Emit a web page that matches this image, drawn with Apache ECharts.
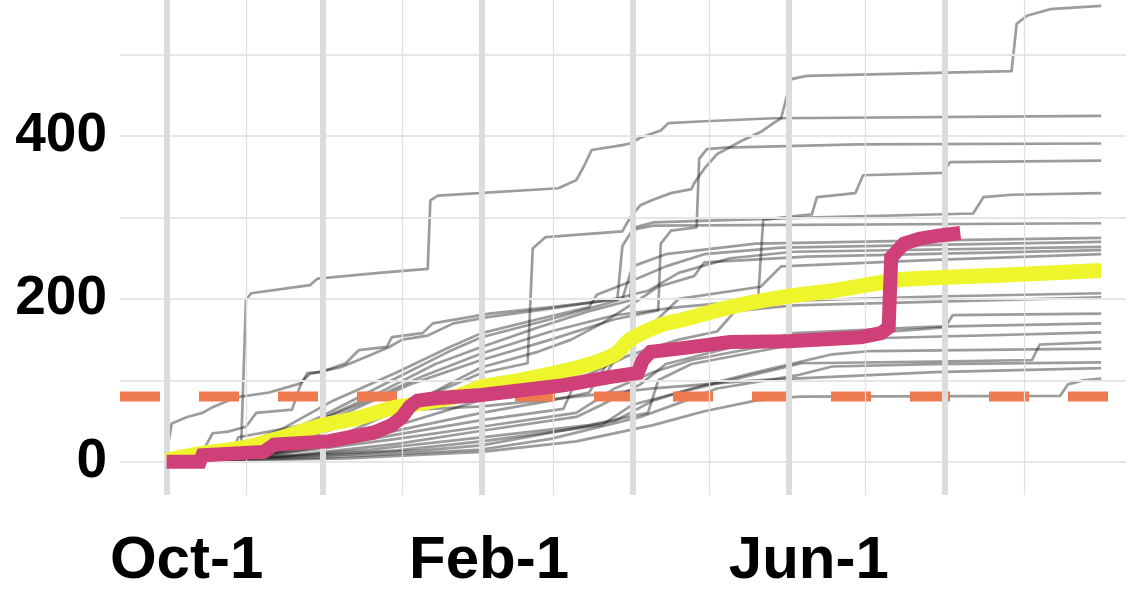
<!DOCTYPE html>
<html>
<head>
<meta charset="utf-8">
<title>Cumulative totals since Oct-1</title>
<script src="https://cdn.jsdelivr.net/npm/echarts@6/dist/echarts.min.js"></script>
<style>
  html, body { margin: 0; padding: 0; background: #ffffff; }
  #chart { width: 1142px; height: 589px; }
</style>
</head>
<body>
<div id="chart"></div>
<script>
// Days counted from Oct-1; values are running totals.
const dayMin = -18.2;
const dayMax = 374.7;
const valueMin = -40.9;
const valueMax = 567.3;

// Month starts (days since Oct-1) used for the vertical grid
const monthStarts = [0, 31, 61, 92, 123, 151, 182, 212, 243, 273, 304, 335];
const gridValues = [0, 100, 200, 300, 400, 500];

// Axis labels
const xTickDays = [0, 123, 243];
const xTickLabels = ['Oct-1', 'Feb-1', 'Jun-1'];
const yTickValues = [0, 200, 400];

// Reference level
const thresholdValue = 80;

// Earlier seasons, [day, running total]
const season01 = [[0,2],[29,8],[31,199],[33,207],[56,217],[59,225],[83,232],[102,237],[103,321],[106,327],[153,336],[160,346],[163,363],[166,383],[178,389],[181,391],[185,398],[193,407],[196,416],[208,418],[237,422],[365,425]];
const season02 = [[0,0],[30,8],[55,30],[80,55],[105,85],[123,109],[141,121],[143,262],[148,276],[178,283],[181,300],[185,315],[190,322],[197,330],[205,335],[206,342],[210,360],[215,378],[225,395],[232,405],[237,416],[240,422],[244,470],[250,474],[330,480],[332,538],[336,548],[345,556],[365,560]];
const season03 = [[0,0],[20,5],[45,30],[70,60],[95,95],[123,125],[150,150],[175,175],[192,186],[193,268],[197,284],[207,288],[208,372],[211,384],[218,386],[270,390],[365,391]];
const season04 = [[0,0],[25,8],[50,40],[75,70],[100,105],[123,133],[150,160],[175,180],[200,190],[231,199],[233,297],[240,300],[252,304],[254,325],[269,330],[272,352],[303,355],[306,368],[365,370]];
const season05 = [[0,0],[30,12],[55,45],[80,80],[105,120],[123,141],[145,165],[165,185],[181,198],[183,288],[190,294],[250,300],[315,305],[319,325],[330,328],[365,330]];
const season06 = [[0,0],[35,20],[60,55],[88,100],[110,135],[123,153],[150,175],[176,198],[178,265],[182,285],[190,290],[365,293]];
const season07 = [[0,10],[2,47],[8,55],[14,60],[18,67],[27,79],[40,85],[52,96],[56,108],[68,116],[75,125],[87,141],[92,150],[102,155],[112,170],[126,178],[150,188],[175,200],[188,210],[200,232],[220,250],[245,258],[365,264]];
const season08 = [[0,0],[14,5],[15,18],[18,35],[24,37],[31,43],[35,60],[49,64],[52,92],[55,109],[60,110],[70,121],[75,137],[86,141],[88,153],[100,158],[104,170],[126,182],[150,190],[178,200],[182,240],[195,255],[230,268],[300,272],[365,275]];
const season09 = [[0,0],[20,10],[45,40],[65,75],[90,110],[110,140],[123,158],[145,175],[165,190],[168,205],[180,220],[195,240],[210,255],[240,263],[365,270]];
const season10 = [[0,0],[40,10],[70,35],[95,70],[110,95],[123,116],[145,135],[158,150],[170,170],[185,200],[192,215],[206,228],[210,245],[250,252],[365,260]];
const season11 = [[0,0],[40,10],[80,35],[123,76],[150,90],[170,100],[178,140],[190,170],[200,200],[232,215],[240,240],[300,248],[365,255]];
const season12 = [[0,0],[30,5],[70,25],[100,45],[123,60],[150,75],[165,85],[172,120],[185,150],[200,170],[220,185],[245,198],[300,203],[365,207]];
const season13 = [[0,0],[40,8],[80,28],[123,51],[155,65],[160,100],[180,130],[200,150],[215,160],[222,185],[245,192],[365,202]];
const season14 = [[0,0],[45,10],[90,28],[123,43],[160,60],[175,90],[190,110],[205,125],[230,140],[250,152],[304,165],[307,180],[365,182]];
const season15 = [[0,0],[50,8],[90,22],[123,38],[160,55],[170,70],[185,95],[195,120],[220,140],[245,158],[300,166],[365,170]];
const season16 = [[0,0],[30,3],[80,15],[123,30],[165,45],[188,60],[192,100],[205,120],[240,141],[280,152],[365,159]];
const season17 = [[0,0],[40,5],[90,14],[123,25],[170,45],[182,70],[200,85],[220,100],[248,121],[300,123],[338,125],[341,144],[365,147]];
const season18 = [[0,0],[50,6],[100,14],[123,20],[175,50],[190,75],[205,90],[230,110],[260,132],[275,136],[365,139]];
const season19 = [[0,0],[60,5],[100,11],[123,15],[150,28],[185,55],[200,72],[215,90],[246,106],[260,117],[300,120],[365,122]];
const season20 = [[0,0],[70,4],[123,12],[160,25],[190,45],[210,62],[230,75],[247,80],[349,81],[352,95],[358,100],[365,102]];
const season21 = [[0,0],[25,6],[28,30],[45,40],[65,52],[85,62],[123,68],[160,80],[190,90],[230,100],[300,110],[365,115]];

// Average season (yellow) and current season (magenta)
const averageSeason = [[0,2],[13,10],[31,18],[44,29],[61,45],[75,54],[88,66],[100,72],[113,80],[123,92],[138,100],[161,116],[175,132],[181,150],[193,168],[201,174],[220,190],[240,202],[262,211],[285,223],[300,226],[325,229],[365,235]];
const currentSeason = [[0,0],[13,0],[14,8],[38,12],[42,21],[63,25],[81,36],[88,45],[92,55],[95,68],[98,75],[105,78],[123,82],[155,94],[173,104],[184,109],[186,125],[189,135],[200,139],[220,147],[243,148],[271,153],[279,158],[282,165],[283,251],[288,268],[294,274],[302,278],[310,281]];

const pastSeasons = [season01, season02, season03, season04, season05, season06, season07,
  season08, season09, season10, season11, season12, season13, season14, season15,
  season16, season17, season18, season19, season20, season21];

const chart = echarts.init(document.getElementById('chart'), null, { renderer: 'canvas' });

const gridSeries = {
  type: 'line',
  data: [],
  silent: true,
  markLine: {
    silent: true,
    symbol: ['none', 'none'],
    label: { show: false },
    animation: false,
    data: [
      ...gridValues.map(v => ({ yAxis: v, lineStyle: { type: 'solid', width: 2, color: '#e6e6e6' } })),
      ...monthStarts.map((d, i) => ({
        xAxis: d,
        lineStyle: { type: 'solid', width: i % 2 === 0 ? 6 : 1.3, color: i % 2 === 0 ? '#dcdcdc' : '#e0e0e0' }
      }))
    ]
  }
};

const pastSeries = pastSeasons.map(s => ({
  type: 'line',
  data: s,
  showSymbol: false,
  silent: true,
  lineStyle: { width: 2.7, color: 'rgba(20,20,20,0.42)', join: 'round' },
  z: 3
}));

const option = {
  animation: false,
  backgroundColor: '#ffffff',
  grid: { left: 120, right: 16, top: 0, bottom: 94, outerBoundsMode: 'none' },
  xAxis: {
    type: 'value',
    min: dayMin,
    max: dayMax,
    axisLine: { show: false },
    axisTick: { show: false },
    splitLine: { show: false },
    axisLabel: {
      customValues: xTickDays,
      margin: 36,
      formatter: v => {
        const i = xTickDays.indexOf(v);
        return '{t' + i + '|' + xTickLabels[i] + '}';
      },
      rich: {
        t0: { fontSize: 60, fontWeight: 'bold', fontFamily: 'Liberation Sans', color: '#000', lineHeight: 60, padding: [0, 0, 0, 40] },
        t1: { fontSize: 60, fontWeight: 'bold', fontFamily: 'Liberation Sans', color: '#000', lineHeight: 60, padding: [0, 0, 0, 15] },
        t2: { fontSize: 60, fontWeight: 'bold', fontFamily: 'Liberation Sans', color: '#000', lineHeight: 60, padding: [0, 0, 0, 40] }
      }
    }
  },
  yAxis: {
    type: 'value',
    min: valueMin,
    max: valueMax,
    axisLine: { show: false },
    axisTick: { show: false },
    splitLine: { show: false },
    axisLabel: {
      customValues: yTickValues,
      margin: 13,
      fontSize: 55,
      fontWeight: 'bold',
      fontFamily: 'Liberation Sans',
      color: '#000'
    }
  },
  series: [
    gridSeries,
    ...pastSeries,
    {
      type: 'line',
      data: [[dayMin, thresholdValue], [dayMax, thresholdValue]],
      showSymbol: false,
      silent: true,
      lineStyle: { width: 10, color: '#ee7b4f', type: [40, 39], cap: 'butt' },
      z: 4
    },
    {
      type: 'line',
      data: averageSeason,
      showSymbol: false,
      silent: true,
      smooth: 0.3,
      lineStyle: { width: 15, color: '#eef52c', cap: 'butt', join: 'round' },
      z: 5
    },
    {
      type: 'line',
      data: currentSeason,
      showSymbol: false,
      silent: true,
      lineStyle: { width: 14, color: '#cf3f78', cap: 'butt', join: 'miter' },
      z: 6
    }
  ]
};

chart.setOption(option);
</script>
</body>
</html>
